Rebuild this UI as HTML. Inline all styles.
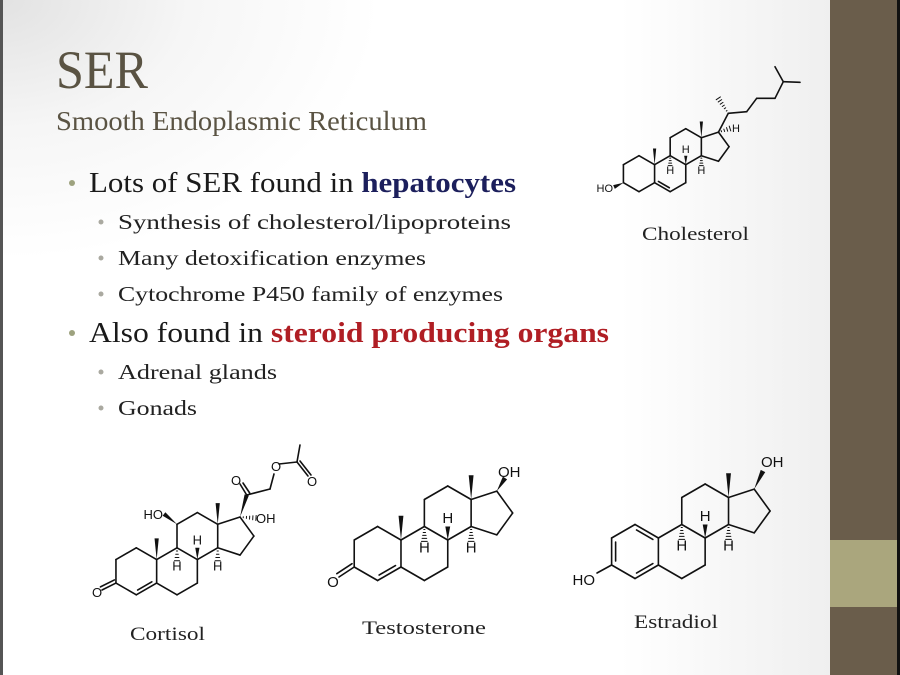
<!DOCTYPE html>
<html><head><meta charset="utf-8"><style>
html,body{margin:0;padding:0;width:900px;height:675px;overflow:hidden;background:#fff}
svg{display:block}
.s{font-family:"Liberation Serif",serif}
.a{font-family:"Liberation Sans",sans-serif;fill:#111}
</style></head><body>
<svg id="sv" width="900" height="675" viewBox="0 0 900 675" xmlns="http://www.w3.org/2000/svg">
<defs>
<radialGradient id="g" cx="0" cy="0" r="1" gradientUnits="userSpaceOnUse" gradientTransform="translate(0 0) scale(380 260)">
<stop offset="0" stop-color="#e2e2e2"/><stop offset="0.5" stop-color="#f6f6f6"/><stop offset="1" stop-color="#ffffff"/>
</radialGradient>
<linearGradient id="g2" x1="0" x2="1" y1="0" y2="0"><stop offset="0" stop-color="#fff"/><stop offset="1" stop-color="#efefef"/></linearGradient>
</defs>
<rect width="900" height="675" fill="#fff"/>
<rect x="620" y="0" width="210" height="675" fill="url(#g2)"/>
<rect width="600" height="400" fill="url(#g)"/>
<rect x="0" y="0" width="3" height="675" fill="#555"/>
<rect x="830" y="0" width="67" height="675" fill="#6a5d4b"/>
<rect x="830" y="540" width="67" height="67" fill="#aaa67d"/>
<rect x="897" y="0" width="3" height="675" fill="#111"/>

<text class="s" x="56" y="88" font-size="54" fill="#5a5343" textLength="92" lengthAdjust="spacingAndGlyphs">SER</text>
<text class="s" x="56" y="130" font-size="27" fill="#5a5343" textLength="371" lengthAdjust="spacingAndGlyphs">Smooth Endoplasmic Reticulum</text>

<circle cx="72" cy="183" r="3" fill="#9da27e"/>
<text class="s" x="89" y="192" font-size="28" fill="#1a1a1a" textLength="427" lengthAdjust="spacingAndGlyphs">Lots of SER found in <tspan fill="#1c1f5c" font-weight="bold">hepatocytes</tspan></text>
<circle cx="101" cy="222" r="2.5" fill="#aaa9a0"/>
<text class="s" x="118" y="229" font-size="21" fill="#222" textLength="393" lengthAdjust="spacingAndGlyphs">Synthesis of cholesterol/lipoproteins</text>
<circle cx="101" cy="258" r="2.5" fill="#aaa9a0"/>
<text class="s" x="118" y="265" font-size="21" fill="#222" textLength="308" lengthAdjust="spacingAndGlyphs">Many detoxification enzymes</text>
<circle cx="101" cy="294" r="2.5" fill="#aaa9a0"/>
<text class="s" x="118" y="301" font-size="21" fill="#222" textLength="385" lengthAdjust="spacingAndGlyphs">Cytochrome P450 family of enzymes</text>
<circle cx="72" cy="333" r="3" fill="#9da27e"/>
<text class="s" x="89" y="342" font-size="28" fill="#1a1a1a" textLength="520" lengthAdjust="spacingAndGlyphs">Also found in <tspan fill="#b01e24" font-weight="bold">steroid producing organs</tspan></text>
<circle cx="101" cy="372" r="2.5" fill="#aaa9a0"/>
<text class="s" x="118" y="379" font-size="21" fill="#222" textLength="159" lengthAdjust="spacingAndGlyphs">Adrenal glands</text>
<circle cx="101" cy="408" r="2.5" fill="#aaa9a0"/>
<text class="s" x="118" y="415" font-size="21" fill="#222" textLength="79" lengthAdjust="spacingAndGlyphs">Gonads</text>

<text class="s" x="642" y="240" font-size="19" fill="#222" textLength="107" lengthAdjust="spacingAndGlyphs">Cholesterol</text>
<text class="s" x="130" y="640" font-size="19" fill="#222" textLength="75" lengthAdjust="spacingAndGlyphs">Cortisol</text>
<text class="s" x="362" y="634" font-size="19" fill="#222" textLength="124" lengthAdjust="spacingAndGlyphs">Testosterone</text>
<text class="s" x="634" y="628" font-size="19" fill="#222" textLength="84" lengthAdjust="spacingAndGlyphs">Estradiol</text>

<g id="labels">
<text class="a" id="ch_HO" font-size="11" text-anchor="end" x="613" y="192">HO</text>
<text class="a" id="ch_H8" font-size="11" text-anchor="middle">H</text>
<text class="a" id="ch_H9" font-size="11" text-anchor="middle">H</text>
<text class="a" id="ch_H14" font-size="11" text-anchor="middle">H</text>
<text class="a" font-size="11" x="732" y="132">H</text>

<text class="a" id="te_H8" font-size="15" text-anchor="middle">H</text>
<text class="a" id="te_H9" font-size="15" text-anchor="middle">H</text>
<text class="a" id="te_H14" font-size="15" text-anchor="middle">H</text>
<text class="a" font-size="15" x="498" y="477">OH</text>
<text class="a" font-size="15" text-anchor="middle" x="333" y="587">O</text>

<text class="a" id="co_H8" font-size="13" text-anchor="middle">H</text>
<text class="a" id="co_H9" font-size="13" text-anchor="middle">H</text>
<text class="a" id="co_H14" font-size="13" text-anchor="middle">H</text>
<text class="a" font-size="13" text-anchor="end" x="163" y="519">HO</text>
<text class="a" font-size="13" x="256" y="523">OH</text>
<text class="a" font-size="13" text-anchor="middle" x="97" y="597">O</text>
<text class="a" font-size="13" text-anchor="middle" x="236" y="485">O</text>
<text class="a" font-size="13" text-anchor="middle" x="276" y="471">O</text>
<text class="a" font-size="13" text-anchor="middle" x="312" y="486">O</text>

<text class="a" id="es_H8" font-size="15" text-anchor="middle">H</text>
<text class="a" id="es_H9" font-size="15" text-anchor="middle">H</text>
<text class="a" id="es_H14" font-size="15" text-anchor="middle">H</text>
<text class="a" font-size="15" text-anchor="end" x="595" y="585">HO</text>
<text class="a" font-size="15" x="761" y="467">OH</text>
</g>
<g id="bonds" stroke="#111" stroke-width="1.6" fill="none" stroke-linecap="round"></g>
</svg>
<script>
(function(){
var NS="http://www.w3.org/2000/svg",B=document.getElementById("bonds");
function el(n,a){var e=document.createElementNS(NS,n);for(var k in a)e.setAttribute(k,a[k]);B.appendChild(e);return e;}
function L(p,q,sw){el("line",{x1:p[0],y1:p[1],x2:q[0],y2:q[1],"stroke-width":sw||1.6});}
function W(p,q,wd){var dx=q[0]-p[0],dy=q[1]-p[1],l=Math.hypot(dx,dy),nx=-dy/l*wd,ny=dx/l*wd;
 el("polygon",{points:p[0]+","+p[1]+" "+(q[0]+nx)+","+(q[1]+ny)+" "+(q[0]-nx)+","+(q[1]-ny),fill:"#111",stroke:"none"});}
function H(p,q,wd){var dx=q[0]-p[0],dy=q[1]-p[1],l=Math.hypot(dx,dy),nx=-dy/l,ny=dx/l,n=Math.max(4,Math.round(l/3));
 for(var i=1;i<=n;i++){var t=i/n,x=p[0]+dx*t,y=p[1]+dy*t,h=wd*t;L([x-nx*h,y-ny*h],[x+nx*h,y+ny*h],1);}}
function D(p,q,c,off){
 var mx=(p[0]+q[0])/2,my=(p[1]+q[1])/2,dx=c[0]-mx,dy=c[1]-my,l=Math.hypot(dx,dy);dx=dx/l*off;dy=dy/l*off;
 var sx=(q[0]-p[0])*0.15,sy=(q[1]-p[1])*0.15;
 L([p[0]+dx+sx,p[1]+dy+sy],[q[0]+dx-sx,q[1]+dy-sy]);}
function S(cx,cy,s){var w=0.866*s,pcx=4*w+0.688*s,pcy=-1.5*s,r={};
 var d={C1:[0,-s],C2:[-w,-s/2],C3:[-w,s/2],C4:[0,s],C5:[w,s/2],C10:[w,-s/2],C6:[2*w,s],C7:[3*w,s/2],C8:[3*w,-s/2],C9:[2*w,-s],
 C11:[2*w,-2*s],C12:[3*w,-2.5*s],C13:[4*w,-2*s],C14:[4*w,-s],C15:[pcx+0.263*s,pcy+0.809*s],C16:[pcx+0.851*s,pcy],C17:[pcx+0.263*s,pcy-0.809*s]};
 for(var k in d)r[k]=[cx+d[k][0],cy+d[k][1]];
 r.A=[cx,cy];r.B=[cx+2*w,cy];r.s=s;return r;}
var bl=[["C1","C2"],["C2","C3"],["C3","C4"],["C4","C5"],["C5","C10"],["C10","C1"],["C5","C6"],["C6","C7"],["C7","C8"],["C8","C9"],["C9","C10"],
["C9","C11"],["C11","C12"],["C12","C13"],["C13","C14"],["C14","C8"],["C14","C15"],["C15","C16"],["C16","C17"],["C17","C13"]];
function draw(a,pre,fs,meth10){var s=a.s;bl.forEach(function(b){L(a[b[0]],a[b[1]]);});
 var wd=s*0.09;
 if(meth10)W(a.C10,[a.C10[0],a.C10[1]-0.9*s],wd);
 W(a.C13,[a.C13[0],a.C13[1]-0.9*s],wd);
 W(a.C8,[a.C8[0],a.C8[1]-0.5*s],wd);
 H(a.C9,[a.C9[0],a.C9[1]+0.55*s],wd*1.2);
 H(a.C14,[a.C14[0],a.C14[1]+0.55*s],wd*1.2);
 function put(id,x,y){var t=document.getElementById(pre+id);t.setAttribute("x",x);t.setAttribute("y",y);}
 put("_H8",a.C8[0],a.C8[1]-0.55*s-2);
 put("_H9",a.C9[0],a.C9[1]+0.55*s+fs*0.75);
 put("_H14",a.C14[0],a.C14[1]+0.55*s+fs*0.75);
}
var c=S(639,173.7,18);draw(c,"ch",11,true);D(c.C5,c.C6,c.B,3);
W(c.C3,[614,187],2);
var sc=[[728.3,113.3],[746.7,111.7],[756.7,98.3],[775,98.3],[783.3,81.7],[800,82.3]];
L(c.C17,sc[0]);for(var i=0;i<sc.length-1;i++)L(sc[i],sc[i+1]);L(sc[4],[775,66.7]);
H(sc[0],[718.3,98.3],2.5);H(c.C17,[730,128.5],2.5);
var t=S(377.6,553.5,27);draw(t,"te",15,true);D(t.C4,t.C5,t.A,4);
var o1=[339,577];L(t.C3,o1);var dx=o1[0]-t.C3[0],dy=o1[1]-t.C3[1],l=Math.hypot(dx,dy);
L([t.C3[0]-dy/l*4,t.C3[1]+dx/l*4],[o1[0]-dy/l*4,o1[1]+dx/l*4]);
W(t.C17,[505,478],2.5);
var k=S(136.3,571.3,23.5);draw(k,"co",13,true);D(k.C4,k.C5,k.A,3.5);
var o2=[102,590];L(k.C3,o2);dx=o2[0]-k.C3[0];dy=o2[1]-k.C3[1];l=Math.hypot(dx,dy);
L([k.C3[0]-dy/l*3.5,k.C3[1]+dx/l*3.5],[o2[0]-dy/l*3.5,o2[1]+dx/l*3.5]);
W(k.C11,[164,514],2.2);
H(k.C17,[256,518],2.5);
var c20=[246.7,495];W(k.C17,c20,2.2);
L(c20,[240,484]);L([c20[0]+3,c20[1]-2],[243,483]);
L(c20,[270,489]);L([270,489],[274,474]);L([279,464],[297,462]);
L([297,462],[308,476]);L([300,461],[311,475]);L([297,462],[300,445]);
var e=S(635,551.5,27);draw(e,"es",15,false);
D(e.C2,e.C3,e.A,4);D(e.C1,e.C10,e.A,4);D(e.C4,e.C5,e.A,4);
L(e.C3,[597,573]);
W(e.C17,[763,471],2.5);
})();
</script>
</body></html>
